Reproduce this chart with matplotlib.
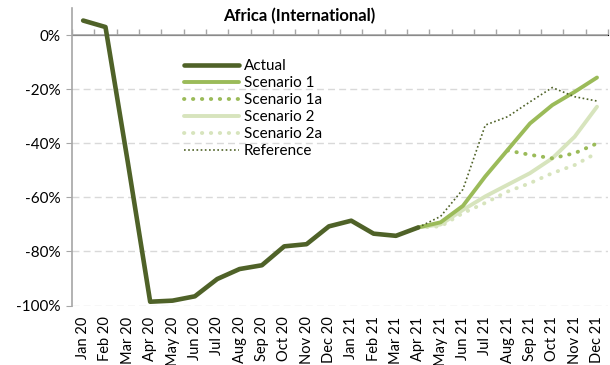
import matplotlib
matplotlib.use("Agg")
import matplotlib.pyplot as plt
import numpy as np

plt.rcParams['font.family'] = ['Lato', 'DejaVu Sans']

months = ["Jan 20", "Feb 20", "Mar 20", "Apr 20", "May 20", "Jun 20", "Jul 20", "Aug 20",
          "Sep 20", "Oct 20", "Nov 20", "Dec 20", "Jan 21", "Feb 21", "Mar 21", "Apr 21",
          "May 21", "Jun 21", "Jul 21", "Aug 21", "Sep 21", "Oct 21", "Nov 21", "Dec 21"]

# percent change vs 2019
actual = [5.5, 3.1, -47, -98.6, -98.2, -96.6, -90.2, -86.5, -85.1, -78.1, -77.3, -70.7,
          -68.6, -73.4, -74.2, -71.1]
scen1 = [-71.1, -69.2, -63.1, -52.2, -42.4, -32.6, -25.8, -20.9, -15.6]      # Apr 21 .. Dec 21
scen1a = [-42.6, -44.2, -45.5, -43.6, -40.0]                                 # Aug 21 .. Dec 21
scen2 = [-71.1, -70.0, -64.6, -59.6, -55.3, -51.0, -45.5, -37.5, -26.4]      # Apr 21 .. Dec 21
scen2a = [-71.1, -70.7, -65.8, -62.0, -57.8, -54.7, -51.0, -48.0, -43.5]     # Apr 21 .. Dec 21
reference = [-71.1, -67.0, -57.0, -33.2, -30.1, -24.6, -19.3, -22.7, -24.3]  # Apr 21 .. Dec 21

x = np.arange(len(months))
x_act = x[:len(actual)]
x_scen = x[15:]
x_1a = x[19:]

fig = plt.figure(figsize=(6.1, 3.65), dpi=100)
ax = fig.add_axes([0.118, 0.163, 0.879, 0.814])

dark = "#4F6228"
mid = "#9BBB59"
light = "#D7E4BD"
grey = "#A6A6A6"

ax.plot(x_act, actual, color=dark, lw=3.3, label="Actual", solid_capstyle="round", zorder=5)
ax.plot(x_scen, scen1, color=mid, lw=2.8, label="Scenario 1", solid_capstyle="round", zorder=4)
ax.plot(x_1a, scen1a, color=mid, lw=2.8, ls=(0, (0.1, 2.2)), dash_capstyle="round",
        label="Scenario 1a", zorder=4)
ax.plot(x_scen, scen2, color=light, lw=2.8, label="Scenario 2", solid_capstyle="round", zorder=3)
ax.plot(x_scen, scen2a, color=light, lw=2.8, ls=(0, (0.1, 2.2)), dash_capstyle="round",
        label="Scenario 2a", zorder=3)
ax.plot(x_scen, reference, color=dark, lw=1.2, ls=(0, (1, 1.5)), label="Reference", zorder=6)

ax.set_xlim(-0.5, len(months) - 0.5)
ax.set_ylim(-100, 10)
ax.set_yticks([0, -20, -40, -60, -80, -100])
ax.set_yticklabels(["0%", "-20%", "-40%", "-60%", "-80%", "-100%"])
for v in [-20, -40, -60, -80, -100]:
    ax.axhline(v, color="#D9D9D9", lw=1.0, ls=(0, (5, 3)), zorder=1)
ax.axhline(0, color=grey, lw=1.2, zorder=2)

ax.set_xticks(x)
ax.set_xticklabels(months, rotation=90, fontsize=10.5)
ax.tick_params(axis="x", length=0, pad=8)
ax.tick_params(axis="y", length=4, color=grey, labelsize=11, pad=4)

for s in ["top", "right", "bottom"]:
    ax.spines[s].set_visible(False)
ax.spines["left"].set_color(grey)
ax.spines["left"].set_linewidth(1.2)

# tick marks on the zero line, between categories
sec = ax.secondary_xaxis(100 / 110)
sec.set_xticks(np.arange(-0.5, len(months), 1.0))
sec.set_xticklabels([])
sec.tick_params(length=4, color=grey, direction="out", width=1.0)
sec.spines["bottom"].set_visible(False)

ax.legend(loc="upper left", bbox_to_anchor=(0.198, 0.85), frameon=False, fontsize=11,
          handlelength=3.6, handletextpad=0.3, labelspacing=0.2, borderaxespad=0)

fig.text(0.49, 0.955, "Africa (International)", ha="center", va="center",
         fontsize=12, fontweight="bold")

fig.savefig("out.png", dpi=100)
